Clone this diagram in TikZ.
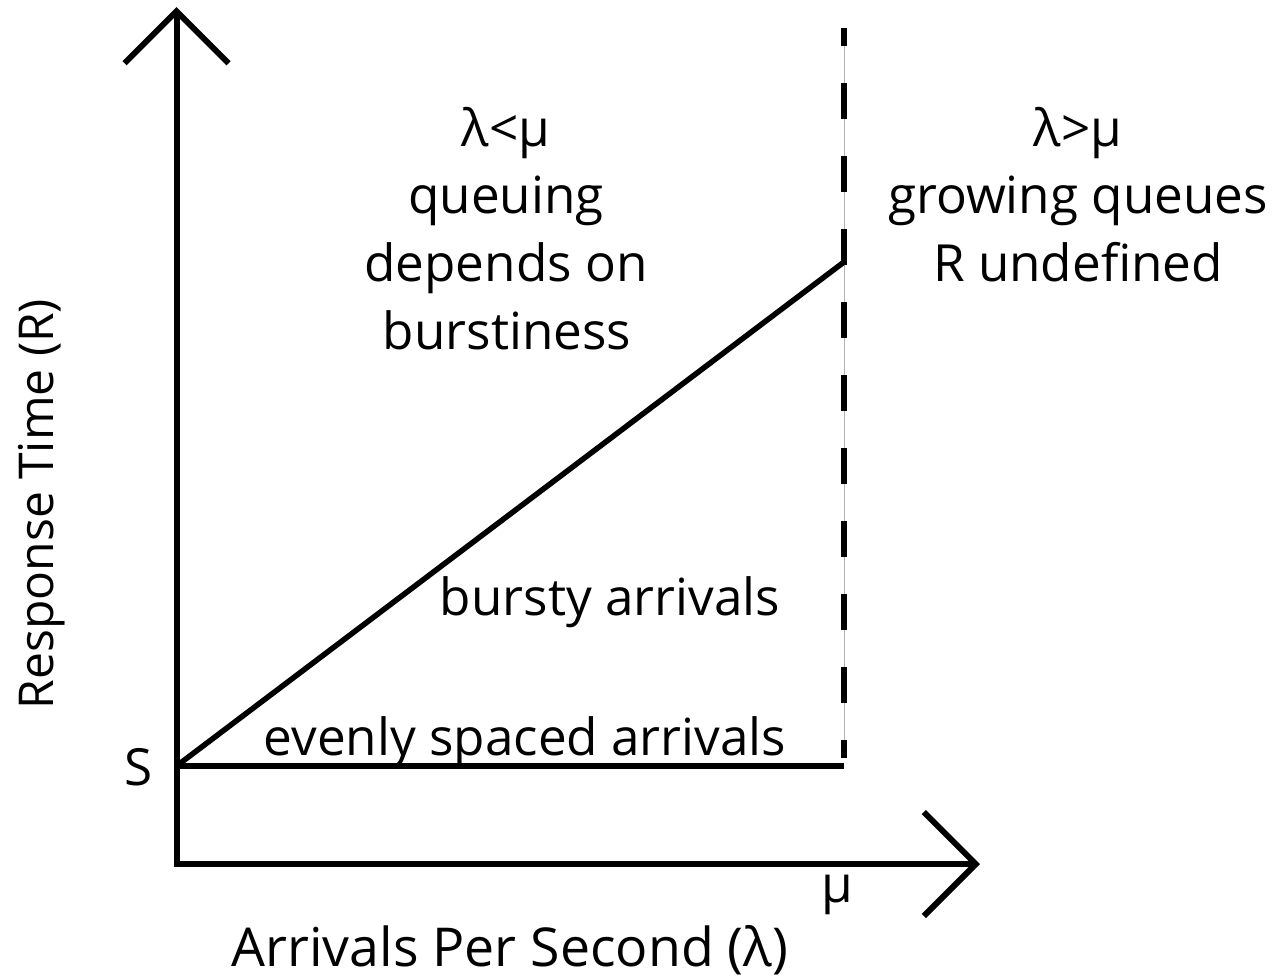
\documentclass[tikz,border=0pt]{standalone}
\usepackage{fontspec}
\setmainfont{Open Sans}
\usetikzlibrary{arrows.meta}

\begin{document}
\begin{tikzpicture}[
        x=0.5pt, y=-0.5pt,
        mytext/.style={
            font=\fontsize{25.6}{30}\selectfont,
            inner sep=0pt,
            anchor=base},
        myaxis/.style={
            line width=3pt,
            -{Straight Barb[length=26pt,width=52pt]}},
        myline/.style={line width=2.75pt},
        mydash/.style={line width=3.2pt, dash pattern=on 18pt off 18.5pt, dash phase=9pt},
        myguide/.style={line width=0.5pt, draw=black!30}
        ]
        \useasboundingbox (0,0) rectangle (1277,976);

        % axes
        \coordinate (o) at (176.5,867);
        \coordinate (ytip) at (176.5,7);
        \coordinate (xtip) at (980,864);
        \coordinate (xstart) at (173.5,864);
        \draw[myaxis] (o) -- (ytip);
        \draw[myaxis] (xstart) -- (xtip);

        % service time and the two response curves
        \coordinate (s) at (176.5,766);
        \coordinate (even) at (844,766);
        \coordinate (burst) at (844,262);
        \coordinate (mutop) at (844,28);
        \coordinate (mubot) at (844,758);
        \draw[myguide] (mutop) -- (mubot);
        \draw[mydash] (mutop) -- (mubot);
        \draw[myline] (s) -- (burst);
        \draw[myline] (s) -- (even);

        \foreach \n/\x/\y/\txt in {% name/x/baseline/text
            lt1/506/146/{λ<μ},
            lt2/506/213/{queuing},
            lt3/506/281/{depends on},
            lt4/507/349/{burstiness},
            rt1/1078/146/{λ>μ},
            rt2/1078/213/{growing queues},
            rt3/1078/281/{R undefined},
            bursty/610/615/{bursty arrivals},
            evenly/525/755/{evenly spaced arrivals},
            slabel/139/785/{S},
            mulabel/837/902/{μ}}
            \node[mytext] (\n) at (\x,\y) {\txt};

        \node[mytext,font=\fontsize{26.8}{30}\selectfont] (xlabel) at (510,966) {Arrivals Per Second (λ)};
        \node[mytext,font=\fontsize{24}{30}\selectfont,rotate=90] (ylabel) at (53,504) {Response Time (R)};
        \end{tikzpicture}
\end{document}
